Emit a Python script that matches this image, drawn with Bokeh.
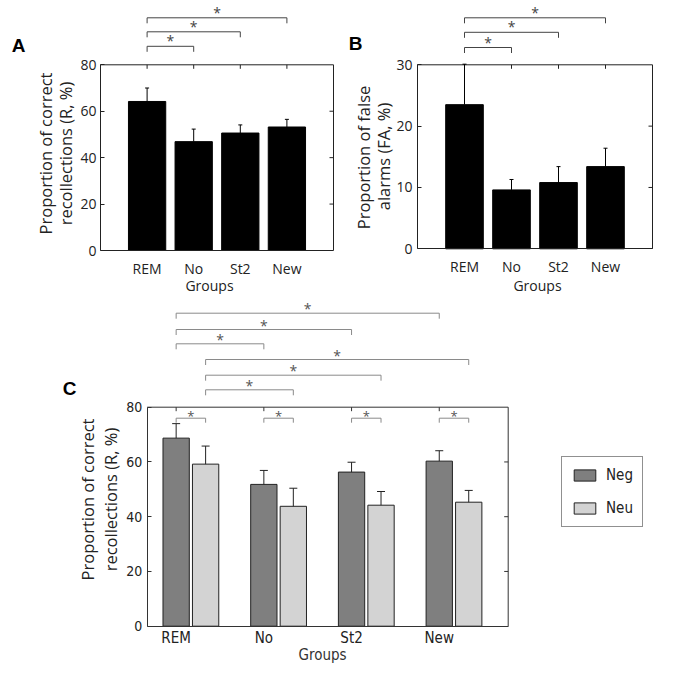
import math
from bokeh.plotting import figure
from bokeh.layouts import column, row
from bokeh.models import Range1d, FixedTicker, Label, Legend, LegendItem
from bokeh.core.properties import value
from bokeh.embed import file_html
from bokeh.resources import INLINE

# ---------------- data ----------------
groups = ["REM", "No", "St2", "New"]
group_pos = [1, 2, 3, 4]

a_recollection = [64.2, 46.9, 50.6, 53.2]
a_recollection_err = [5.8, 5.4, 3.5, 3.3]

b_false_alarms = [23.5, 9.6, 10.8, 13.4]
b_false_alarms_err = [6.6, 1.7, 2.6, 3.0]

c_neg = [68.7, 51.8, 56.3, 60.3]
c_neg_err = [5.3, 5.1, 3.6, 3.8]
c_neu = [59.2, 43.8, 44.2, 45.3]
c_neu_err = [6.6, 6.6, 5.0, 4.3]

a_yticks = [0, 20, 40, 60, 80]
b_yticks = [0, 10, 20, 30]
c_yticks = [0, 20, 40, 60, 80]

# significant comparisons (1-based group indices)
ab_sig_pairs = [(1, 2), (1, 3), (1, 4)]
c_sig_neg_pairs = [(1, 4), (1, 3), (1, 2)]
c_sig_neu_pairs = [(1, 4), (1, 3), (1, 2)]
c_sig_within = [1, 2, 3, 4]

# ---------------- styles ----------------
SANS = "Open Sans"
COND = "DejaVu Sans Condensed"
BOLD = "Liberation Sans"
NEG_COLOR = "#7f7f7f"
NEU_COLOR = "#d3d3d3"


def make_panel(ox, oy, w, h, box_x, box_px_x, box_top, box_px_y, yticks, tick_font,
               xtick_size, ytick_size, axis_color, x_standoff, y_standoff, top_ticks=True):
    """Canvas covers (ox, oy, w, h) of the page; the data box box_x=(x0,x1), 0..box_top
    is placed at pixels box_px_x=(left,right), box_px_y=(bottom,top)."""
    x0, x1 = box_x
    L, R = box_px_x
    B, T = box_px_y
    ppx = (R - L) / (x1 - x0)
    ppu = (B - T) / box_top
    xr = (x0 - (L - ox) / ppx, x1 + (ox + w - R) / ppx)
    yr = (-(oy + h - B) / ppu, box_top + (T - oy) / ppu)
    p = figure(width=w, height=h, x_range=Range1d(*xr), y_range=Range1d(*yr),
               output_backend="svg", toolbar_location=None,
               min_border_left=0, min_border_right=0, min_border_top=0, min_border_bottom=0)
    p.outline_line_color = None
    p.xgrid.visible = False
    p.ygrid.visible = False

    xa = p.xaxis[0]
    xa.fixed_location = 0
    xa.bounds = (x0, x1)
    xa.ticker = FixedTicker(ticks=group_pos)
    xa.major_label_overrides = {i: g for i, g in zip(group_pos, groups)}
    xa.major_tick_in = 0
    xa.major_tick_out = 0
    xa.minor_tick_line_color = None
    xa.axis_line_color = axis_color
    xa.major_label_standoff = x_standoff
    xa.major_label_text_font = tick_font
    xa.major_label_text_font_size = xtick_size
    xa.major_label_text_color = "#222"

    ya = p.yaxis[0]
    ya.fixed_location = x0
    ya.bounds = (0, box_top)
    ya.ticker = FixedTicker(ticks=yticks)
    ya.major_tick_in = 4
    ya.major_tick_out = 0
    ya.minor_tick_line_color = None
    ya.axis_line_color = axis_color
    ya.major_tick_line_color = axis_color
    ya.major_label_standoff = y_standoff
    ya.major_label_text_font = tick_font
    ya.major_label_text_font_size = ytick_size
    ya.major_label_text_color = "#222"

    # right and top edges of the box, with inward ticks
    p.segment(x0=[x0, x1], x1=[x1, x1], y0=[box_top, 0], y1=[box_top, box_top],
              line_color=axis_color, line_width=1)
    inner = [t for t in yticks if 0 < t < box_top]
    p.segment(x0=[x1] * len(inner), x1=[x1 - 4 / ppx] * len(inner), y0=inner, y1=inner,
              line_color=axis_color, line_width=1)
    if top_ticks:
        p.segment(x0=group_pos, x1=group_pos, y0=[box_top] * 4,
                  y1=[box_top - 4 / ppu] * 4, line_color=axis_color, line_width=1)

    def dx(px):
        return x0 + (px - L) / ppx

    def dy(py):
        return (B - py) / ppu

    return p, dx, dy, ppu, ppx


def add_label(p, x, y, text, font, size, color="#222", angle=0.0, style="normal"):
    p.add_layout(Label(x=x, y=y, text=text, text_font=font, text_font_size=size,
                       text_color=color, angle=angle, text_align="center",
                       text_baseline="middle", text_font_style=style))


def add_brackets(p, pairs_x, levels, leg, star_lift, color, star_color, star_size, font):
    xs, ys, sx, sy = [], [], [], []
    for (xa, xb), lv in zip(pairs_x, levels):
        xs.append([xa, xa, xb, xb])
        ys.append([lv - leg, lv, lv, lv - leg])
        sx.append((xa + xb) / 2)
        sy.append(lv + star_lift)
    p.multi_line(xs=xs, ys=ys, line_color=color, line_width=1)
    p.text(x=sx, y=sy, text=["*"] * len(sx), text_align="center", text_baseline="middle",
           text_font=value(font), text_font_size=star_size, text_color=star_color)


def add_errorbars(p, xs, tops, errs, cap_half, color):
    ends = [t + e for t, e in zip(tops, errs)]
    p.segment(x0=xs, x1=xs, y0=tops, y1=ends, line_color=color, line_width=1)
    p.segment(x0=[x - cap_half for x in xs], x1=[x + cap_half for x in xs],
              y0=ends, y1=ends, line_color=color, line_width=1)


TOP_H = 294
C_H = 369
YLAB_SIZE = "16.5px"

# ================= Panel A =================
pA, dxA, dyA, ppuA, ppxA = make_panel(0, 0, 340, TOP_H, (0, 5), (100, 333), 80, (250, 64.3),
                                      a_yticks, SANS, "14px", "14px", "#222", 8, 4)
pA.vbar(x=group_pos, top=a_recollection, width=0.8, fill_color="black", line_color="black")
add_errorbars(pA, group_pos, a_recollection, a_recollection_err, 2 / ppxA, "black")
add_brackets(pA, ab_sig_pairs, [80 + h / ppuA for h in (18.5, 33, 47)], 5.5 / ppuA,
             5.5 / ppuA, "#444", "#444", "14px", SANS)
add_label(pA, dxA(18), dyA(45), "A", BOLD, "19px", "black", style="bold")
add_label(pA, dxA(45), dyA(153), "Proportion of correct", SANS, YLAB_SIZE, "#222", math.pi / 2)
add_label(pA, dxA(65), dyA(153), "recollections (R, %)", SANS, YLAB_SIZE, "#222", math.pi / 2)
add_label(pA, dxA(209), dyA(285), "Groups", SANS, "14px", "#222")

# ================= Panel B =================
pB, dxB, dyB, ppuB, ppxB = make_panel(340, 0, 324, TOP_H, (0, 5), (417, 652), 30, (248.3, 64.3),
                                      b_yticks, SANS, "14px", "14px", "#222", 8, 5)
pB.vbar(x=group_pos, top=b_false_alarms, width=0.8, fill_color="black", line_color="black")
add_errorbars(pB, group_pos, b_false_alarms, b_false_alarms_err, 2 / ppxB, "black")
add_brackets(pB, ab_sig_pairs, [30 + h / ppuB for h in (17.3, 32.5, 47)], 5.5 / ppuB,
             5.5 / ppuB, "#444", "#444", "14px", SANS)
add_label(pB, dxB(355), dyB(43), "B", BOLD, "19px", "black", style="bold")
add_label(pB, dxB(363), dyB(157), "Proportion of false", SANS, YLAB_SIZE, "#222", math.pi / 2)
add_label(pB, dxB(383), dyB(156), "alarms (FA, %)", SANS, YLAB_SIZE, "#222", math.pi / 2)
add_label(pB, dxB(537), dyB(285), "Groups", SANS, "14px", "#222")

# ================= Panel C =================
neu_shift = 0.336
pC, dxC, dyC, ppuC, ppxC = make_panel(0, TOP_H, 664, C_H, (0.67, 4.786), (146.7, 507.7), 80,
                                      (625.7, 406.7), c_yticks, COND, "15px", "14px", "#333",
                                      3, 5)
neu_pos = [g + neu_shift for g in group_pos]
r_neg = pC.vbar(x=group_pos, top=c_neg, width=0.3, fill_color=NEG_COLOR, line_color="#222")
r_neu = pC.vbar(x=neu_pos, top=c_neu, width=0.3, fill_color=NEU_COLOR, line_color="#222")
add_errorbars(pC, group_pos, c_neg, c_neg_err, 4 / ppxC, "#222")
add_errorbars(pC, neu_pos, c_neu, c_neu_err, 4 / ppxC, "#222")

outer_pairs = ([(a, b) for a, b in c_sig_neg_pairs] +
               [(a + neu_shift, b + neu_shift) for a, b in c_sig_neu_pairs])
outer_levels = [80 + h / ppuC for h in (94, 77.7, 63.4, 47.7, 32, 17.4)]
add_brackets(pC, outer_pairs, outer_levels, 5.5 / ppuC, 4.5 / ppuC, "#8a8a8a", "#555",
             "14px", SANS)
inner_pairs = [(g, g + neu_shift) for g in c_sig_within]
add_brackets(pC, inner_pairs, [80 - 11 / ppuC] * 4, 4.5 / ppuC, 2 / ppuC, "#8a8a8a", "#555",
             "13px", SANS)

add_label(pC, dxC(69), dyC(388), "C", BOLD, "19px", "black", style="bold")
add_label(pC, dxC(87), dyC(499), "Proportion of correct", SANS, YLAB_SIZE, "#222", math.pi / 2)
add_label(pC, dxC(110), dyC(499), "recollections (R, %)", SANS, YLAB_SIZE, "#222", math.pi / 2)
add_label(pC, dxC(322), dyC(654), "Groups", COND, "15px", "#333")

legend = Legend(items=[LegendItem(label="Neg", renderers=[r_neg]),
                       LegendItem(label="Neu", renderers=[r_neu])],
                location=(561, TOP_H + C_H - 527.3), border_line_color="#222",
                border_line_width=1, padding=9, spacing=15, glyph_width=27, glyph_height=14,
                label_height=14, label_standoff=8, label_text_font=COND,
                label_text_font_size="15px", label_text_color="#222", margin=0,
                background_fill_color="white", background_fill_alpha=1.0)
pC.add_layout(legend)

layout = column(row(pA, pB), pC)
open("out.html", "w").write(file_html(layout, INLINE))
